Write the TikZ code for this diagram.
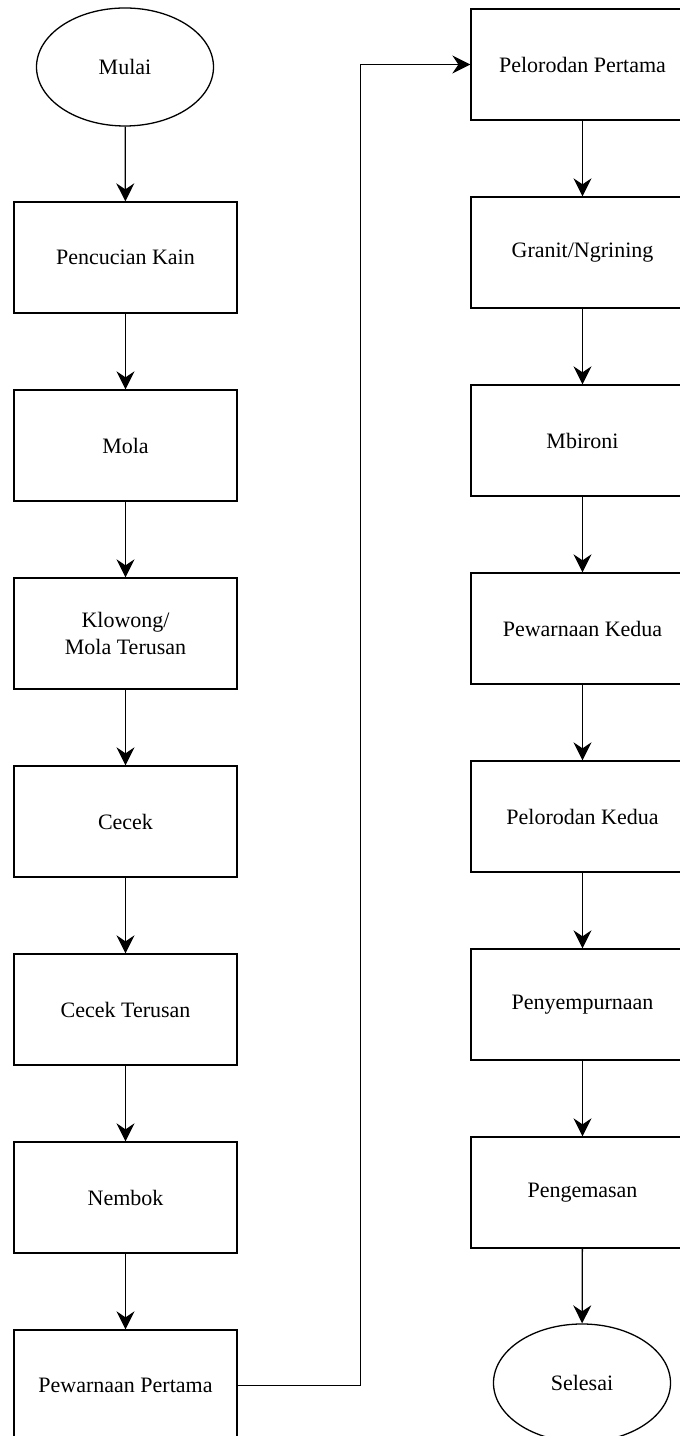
\documentclass[tikz,border=0pt]{standalone}
\usepackage{fontspec}
\setmainfont{Liberation Serif}
\usepackage{tikz}
\usetikzlibrary{shapes.geometric, arrows.meta}

\tikzset{
  proses/.style={draw, rectangle, line width=1.3pt, minimum width=223pt, minimum height=111pt, inner sep=0pt, align=center},
  terminal/.style={draw, ellipse, line width=1.3pt, minimum width=177pt, minimum height=118pt, inner sep=0pt},
  alur/.style={line width=1.3pt, -{Stealth[length=18pt, width=18pt, inset=6pt]}}
}

\begin{document}
\begin{tikzpicture}[x=1pt, y=1pt, font=\fontsize{22}{27}\selectfont]
\useasboundingbox (0,0) rectangle (680,1436);
% kolom kiri
\node[terminal] (mulai) at (125,1369) {Mulai};
\node[proses] (pencucian) at (125.5,1178.5) {Pencucian Kain};
\node[proses] (mola) at (125.5,990.5) {Mola};
\node[proses] (klowong) at (125.5,802.5) {Klowong/\\Mola Terusan};
\node[proses] (cecek) at (125.5,614.5) {Cecek};
\node[proses] (cecekt) at (125.5,426.5) {Cecek Terusan};
\node[proses] (nembok) at (125.5,238.5) {Nembok};
\node[proses] (warna1) at (125.5,50.5) {Pewarnaan Pertama};
% kolom kanan
\node[proses] (lorod1) at (582.5,1371.5) {Pelorodan Pertama};
\node[proses] (granit) at (582.5,1183.5) {Granit/Ngrining};
\node[proses] (mbironi) at (582.5,995.5) {Mbironi};
\node[proses] (warna2) at (582.5,807.5) {Pewarnaan Kedua};
\node[proses] (lorod2) at (582.5,619.5) {Pelorodan Kedua};
\node[proses] (sempurna) at (582.5,431.5) {Penyempurnaan};
\node[proses] (kemas) at (582.5,243.5) {Pengemasan};
\node[terminal] (selesai) at (582,53) {Selesai};
% panah
\foreach \a/\b in {mulai/pencucian, pencucian/mola, mola/klowong, klowong/cecek, cecek/cecekt, cecekt/nembok, nembok/warna1, lorod1/granit, granit/mbironi, mbironi/warna2, warna2/lorod2, lorod2/sempurna, sempurna/kemas, kemas/selesai}
  \draw[alur] (\a) -- (\b);
\draw[alur] (warna1.east) -- ++(123,0) |- (lorod1);
\end{tikzpicture}
\end{document}
